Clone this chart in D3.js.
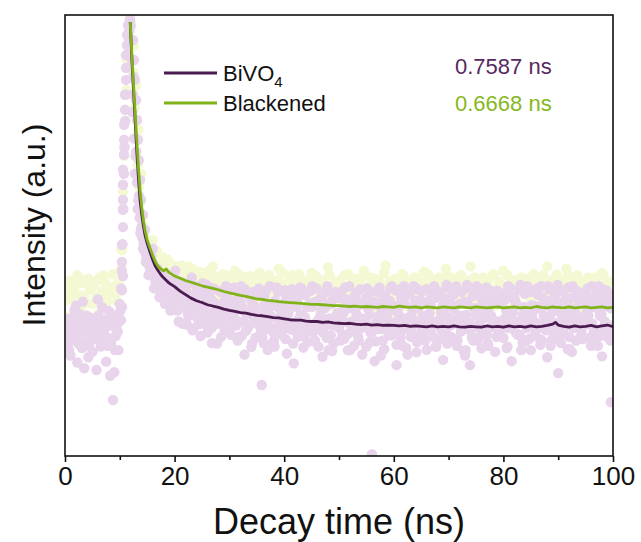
<!DOCTYPE html>
<html>
<head>
<meta charset="utf-8">
<script src="https://cdn.jsdelivr.net/npm/d3@7"></script>
<style>
  html, body { margin: 0; padding: 0; background: #fff; }
  svg { display: block; font-family: "Liberation Sans", Arial, sans-serif; }
</style>
</head>
<body>
<svg id="chart" width="641" height="542"></svg>
<script>
// ---------------- DATA ----------------
const xTicks = [0, 20, 40, 60, 80, 100];
const xMinorTicks = [10, 30, 50, 70, 90];
const seriesNames = ["BiVO4", "Blackened"];
const lifetimes = ["0.7587 ns", "0.6668 ns"];

// raw TRPL counts (arbitrary units), four interleaved sample sets for BiVO4
const rawTime = d3.range(0, 100.001, 0.5);
const rawBiVO4 = [
  262,310,228,295,341,254,287,199,318,270,
  236,302,355,248,281,214,329,266,190,300,
  345,480,760,930,975,860,690,590,520,470,
  455,430,470,395,420,372,410,350,398,340,
  385,330,362,300,375,318,352,290,340,368,
  312,345,280,358,325,300,338,270,350,315,
  290,335,310,262,348,305,283,326,247,312,
  330,295,268,344,301,318,258,289,336,276,
  310,232,298,352,284,270,321,246,305,292,
  338,260,287,312,225,299,345,274,255,318,
  290,327,266,303,240,285,352,270,312,296,
  248,320,281,215,306,340,262,295,327,273,
  300,252,318,284,345,230,292,310,266,336,
  279,305,241,322,290,358,262,301,218,287,
  314,270,333,250,296,308,228,345,283,262,
  320,291,244,312,275,352,298,236,305,285,
  268,330,290,215,302,342,274,258,316,295,
  240,306,285,335,262,298,224,318,280,350,
  303,256,288,322,270,236,310,292,345,265,
  298,318,250,284,336,272,226,305,290,262,
  290
];
const rawTimeB = d3.range(0.25, 100, 0.5);
const rawBiVO4b = [
  305,240,276,332,212,289,350,258,224,313,
  281,195,268,338,297,250,182,315,272,240,
  380,640,880,965,780,640,560,505,470,440,
  410,452,380,405,360,392,345,375,330,362,
  352,305,340,376,298,332,285,357,310,272,
  335,298,366,290,312,255,332,302,285,348,
  275,318,296,340,272,230,322,298,340,268,
  305,282,256,326,292,340,248,312,285,300,
  265,322,287,210,338,296,275,315,258,345,
  280,302,248,330,292,268,312,238,296,325,
  262,304,342,278,295,250,320,288,230,308,
  335,280,295,260,318,288,242,310,352,276,
  290,325,268,302,245,315,282,338,258,300,
  318,262,295,340,270,248,308,285,330,255,
  296,342,265,310,282,238,320,300,268,335,
  262,305,338,282,250,318,292,270,345,300,
  312,248,296,325,280,305,240,338,290,266,
  322,275,300,252,340,285,310,262,296,330,
  270,318,298,242,335,290,262,315,280,305,
  326,268,300,285,250,318,292,340,270,296
];
const rawTimeC = d3.range(0.125, 100, 0.5);
const rawBiVO4c = [
  280,255,312,296,268,322,245,290,305,262,
  298,275,318,250,287,310,266,295,240,282,
  330,560,820,950,900,720,620,540,495,462,
  448,420,435,402,415,385,398,372,380,360,
  420,352,395,340,372,318,405,328,385,300,
  392,330,365,298,380,345,312,372,285,358,
  375,300,352,270,385,328,296,362,255,340,
  368,318,282,375,302,345,262,382,298,335,
  376,290,342,255,365,310,380,272,338,298,
  385,262,352,318,280,372,240,345,300,366,
  358,275,382,240,335,298,370,262,348,310,
  380,258,342,300,372,228,355,318,275,385,
  340,292,378,250,362,312,270,385,235,352,
  372,282,345,305,380,248,362,325,270,388,
  355,300,378,262,345,318,240,382,292,365,
  385,270,352,330,255,375,308,362,282,345,
  368,245,382,305,352,275,388,322,260,372,
  342,298,380,265,360,315,385,250,348,330,
  378,280,352,312,242,385,325,362,270,345,
  362,300,385,258,345,318,378,272,355,335
];
const rawTimeD = d3.range(0.375, 100, 0.5);
const rawBiVO4d = [
  300,270,288,325,258,305,280,315,250,292,
  265,310,285,335,272,298,255,320,290,305,
  420,700,910,990,820,680,580,515,480,450,
  430,442,410,425,392,405,380,390,365,372,
  398,340,385,362,325,392,348,370,315,382,
  365,388,318,352,378,300,372,340,385,322,
  348,382,305,368,338,378,290,355,372,312,
  380,305,362,338,385,282,352,372,318,345,
  362,335,378,298,352,382,318,365,285,375,
  348,380,312,362,335,385,298,355,372,320,
  372,325,355,385,305,362,340,378,292,358,
  335,372,350,288,382,320,365,345,380,302,
  375,340,358,385,312,368,330,352,378,295,
  350,378,322,362,385,305,372,340,358,382,
  342,365,385,318,372,350,388,302,362,335,
  378,315,360,382,338,352,296,375,345,368,
  355,385,325,362,342,378,310,368,385,320,
  372,340,365,385,318,352,378,335,362,388,
  345,372,305,382,358,330,375,348,368,312,
  380,352,338,365,385,322,358,375,342,365
];
// two interleaved sample sets for Blackened
const rawBlackened = [
  352,390,318,372,340,405,330,362,300,378,
  345,395,322,360,410,335,372,310,385,350,
  420,560,820,950,985,870,720,610,540,500,
  478,455,490,432,445,410,438,398,425,405,
  412,380,420,395,372,430,388,400,365,418,
  392,360,405,378,430,355,395,372,340,410,
  380,352,420,368,395,342,405,375,330,398,
  362,415,345,385,320,398,370,350,425,340,
  390,355,372,410,338,365,400,320,378,352,
  415,345,380,330,395,362,428,340,372,305,
  388,352,410,335,370,398,318,380,355,420,
  342,385,362,402,330,375,350,432,365,312,
  395,348,378,412,340,362,388,325,405,355,
  372,418,345,385,330,400,360,378,342,425,
  355,390,318,372,408,345,382,360,430,338,
  398,350,375,322,392,365,410,340,378,355,
  420,362,335,395,370,348,402,385,328,375,
  352,412,368,340,395,378,430,345,362,400,
  385,338,372,425,355,392,345,410,368,332,
  378,405,350,388,362,340,415,372,395,355,
  368
];
const rawBlackenedB = [
  372,398,355,385,410,365,392,348,402,378,
  388,360,405,375,395,352,380,412,368,392,
  470,700,900,990,940,790,660,575,520,490,
  470,482,455,465,440,452,430,445,420,432,
  425,410,432,402,418,395,425,405,412,392,
  415,398,420,388,408,395,375,412,398,385,
  405,390,372,412,385,398,365,408,392,378,
  402,375,395,362,410,385,372,398,380,415,
  385,370,405,392,365,412,380,395,360,402,
  390,408,372,398,385,362,410,378,395,370,
  398,380,365,412,388,372,402,392,368,408,
  375,405,390,362,398,385,415,372,395,380,
  402,368,392,410,378,395,365,405,388,372,
  395,380,412,365,398,385,405,372,392,410,
  378,402,388,365,410,392,375,398,382,405,
  392,370,405,385,398,362,412,380,395,375,
  385,410,372,398,365,392,405,378,402,388,
  402,378,395,368,410,385,372,398,390,412,
  375,398,385,410,365,392,402,380,395,370,
  398,385,372,405,390,378,410,388,365,395
];
// dense samples on the excitation peak
const peakTime = [11.5,11.31,11.31,11.13,11.13,11.13,10.95,10.95,10.77,10.77,10.77,10.58,10.58,10.58,10.58,10.58,10.4,10.4,10.58,10.4,10.4,10.22,
                  12.41,12.59,12.77,12.96,13.14,13.32,13.5,13.69,13.87,14.23,14.6];
const peakBiVO4 = [977,955,932,909,880,853,819,785,751,717,683,649,615,581,558,519,479,440,408,376,338,308,
                   943,898,853,807,762,717,671,626,581,547,513];
const peakTimeY = [11.6,11.4,11.2,11.0,10.8,10.6,10.45,10.3,12.6,13.0,13.4,13.9];
const peakBlackened = [960,900,830,760,680,600,467,426,930,840,740,640];
// isolated low outliers
const outlierTime = [8.76, 26.8, 35.9, 37.0, 56.0, 60.5, 73.9, 90.0, 99.6];
const outlierBiVO4 = [127, 256, 161, 240, 4, 206, 206, 188, 122];

// smoothed decay curves
const fitTime = [11.9,12.2,12.5,12.8,13.1,13.4,13.7,14.0,14.3,14.6,15.0,15.5,16.0,16.5,17.0,17.5,18.0,18.5,19.0,19.5,20,
  21,22,23,24,25,26,27,28,29,30,31,32,33,34,35,36,37,38,39,40,41,42,43,44,45,46,47,48,49,50,
  51,52,53,54,55,56,57,58,59,60,61,62,63,64,65,66,67,68,69,70,71,72,73,74,75,76,77,78,79,80,
  81,82,83,84,85,86,87,88,89,89.5,90,91,92,93,94,95,96,97,98,99,100];
const fitBiVO4 = [984,900,830,760,690,630,580,548,522,501,482,463,445,430,420,411,404,398,392,388,384,
  374,366,358,352,348,343,340,337,333,330,328,325,324,321,319,318,316,314,313,311,309,308,308,306,305,305,303,304,302,301,
  300,301,299,298,299,297,298,296,297,296,295,296,294,295,294,293,295,293,294,293,295,293,292,294,293,292,295,293,294,292,
  295,293,294,292,295,293,294,296,299,303,297,294,292,295,293,294,296,293,295,297,293];
const fitBlackened = [984,910,845,780,715,655,603,565,535,512,490,472,455,440,430,424,420,424,416,412,408,
  403,398,394,390,386,383,380,377,373,370,367,364,362,359,356,355,353,352,350,349,348,347,346,345,344,344,343,342,341,341,
  340,339,340,338,339,338,337,339,338,337,340,338,337,338,336,338,337,336,338,337,336,338,337,336,338,337,336,337,338,336,
  337,338,336,337,336,339,337,336,338,337,337,336,338,336,337,338,336,337,338,336,337];

// ---------------- STYLE ----------------
const colLine = ["#4b1b50", "#80b31a"];
const colDot = ["#e8d4eb", "#f4f9d3"];
const colText = ["#56295f", "#86b822"];

const svg = d3.select("#chart");
const m = { left: 65, right: 613, top: 15, bottom: 456 };

const x = d3.scaleLinear().domain([0, 100]).range([m.left, m.right]);
const y = d3.scaleLinear().domain([0, 1000]).range([m.bottom, m.top]);

svg.append("defs").append("clipPath").attr("id", "clip")
  .append("rect").attr("x", m.left).attr("y", m.top)
  .attr("width", m.right - m.left).attr("height", m.bottom - m.top);

const plot = svg.append("g").attr("clip-path", "url(#clip)");
const R = 5.2;

function dots(times, vals, color) {
  plot.append("g").selectAll("circle")
    .data(vals.map((v, i) => [times[i], v]))
    .join("circle")
    .attr("cx", d => x(d[0])).attr("cy", d => y(d[1]))
    .attr("r", R).attr("fill", color);
}
dots(rawTime, rawBlackened, colDot[1]);
dots(rawTimeB, rawBlackenedB, colDot[1]);
dots(peakTimeY, peakBlackened, colDot[1]);
dots(rawTime, rawBiVO4, colDot[0]);
dots(rawTimeB, rawBiVO4b, colDot[0]);
dots(rawTimeC, rawBiVO4c, colDot[0]);
dots(rawTimeD, rawBiVO4d, colDot[0]);
dots(peakTime, peakBiVO4, colDot[0]);
dots(outlierTime, outlierBiVO4, colDot[0]);

const line = d3.line().x(d => x(d[0])).y(d => y(d[1]));
plot.append("path").datum(fitBiVO4.map((v, i) => [fitTime[i], v]))
  .attr("d", line).attr("fill", "none").attr("stroke", colLine[0])
  .attr("stroke-width", 2.8).attr("stroke-linejoin", "round");
plot.append("path").datum(fitBlackened.map((v, i) => [fitTime[i], v]))
  .attr("d", line).attr("fill", "none").attr("stroke", colLine[1])
  .attr("stroke-width", 2.8).attr("stroke-linejoin", "round");

// frame
svg.append("rect").attr("x", m.left).attr("y", m.top)
  .attr("width", m.right - m.left).attr("height", m.bottom - m.top)
  .attr("fill", "none").attr("stroke", "#111").attr("stroke-width", 1.6);

// x axis
const xAxis = d3.axisBottom(x).tickValues(xTicks).tickSize(6).tickPadding(5).tickFormat(d3.format("d"));
const gx = svg.append("g").attr("transform", `translate(0,${m.bottom})`).call(xAxis);
gx.select(".domain").remove();
gx.selectAll(".tick line").attr("stroke", "#111").attr("stroke-width", 1.6);
gx.selectAll(".tick text").attr("font-size", 26).attr("fill", "#111")
  .attr("font-family", "'Liberation Sans', Arial, sans-serif");
const gxm = svg.append("g").attr("transform", `translate(0,${m.bottom})`)
  .call(d3.axisBottom(x).tickValues(xMinorTicks).tickSize(4).tickFormat(""));
gxm.select(".domain").remove();
gxm.selectAll(".tick line").attr("stroke", "#111").attr("stroke-width", 1.6);

// axis titles
svg.append("text").attr("x", (m.left + m.right) / 2).attr("y", 534)
  .attr("text-anchor", "middle").attr("font-size", 36).attr("fill", "#111")
  .text("Decay time (ns)");
svg.append("text").attr("transform", `translate(45,${225}) rotate(-90)`)
  .attr("text-anchor", "middle").attr("font-size", 32).attr("fill", "#111")
  .text("Intensity (a.u.)");

// legend
const legY = [73, 103];
seriesNames.forEach((name, i) => {
  svg.append("line").attr("x1", 164).attr("x2", 217).attr("y1", legY[i]).attr("y2", legY[i])
    .attr("stroke", colLine[i]).attr("stroke-width", 2.8);
  const t = svg.append("text").attr("x", 223).attr("y", legY[i] + 8)
    .attr("font-size", 22).attr("fill", "#111");
  if (name === "BiVO4") {
    t.append("tspan").text("BiVO");
    t.append("tspan").attr("font-size", 15).attr("dy", 6).text("4");
  } else {
    t.text(name);
  }
});

// lifetimes
const lifeY = [74, 111];
lifetimes.forEach((s, i) => {
  svg.append("text").attr("x", 455).attr("y", lifeY[i])
    .attr("font-size", 22).attr("fill", colText[i]).text(s);
});
</script>
</body>
</html>
